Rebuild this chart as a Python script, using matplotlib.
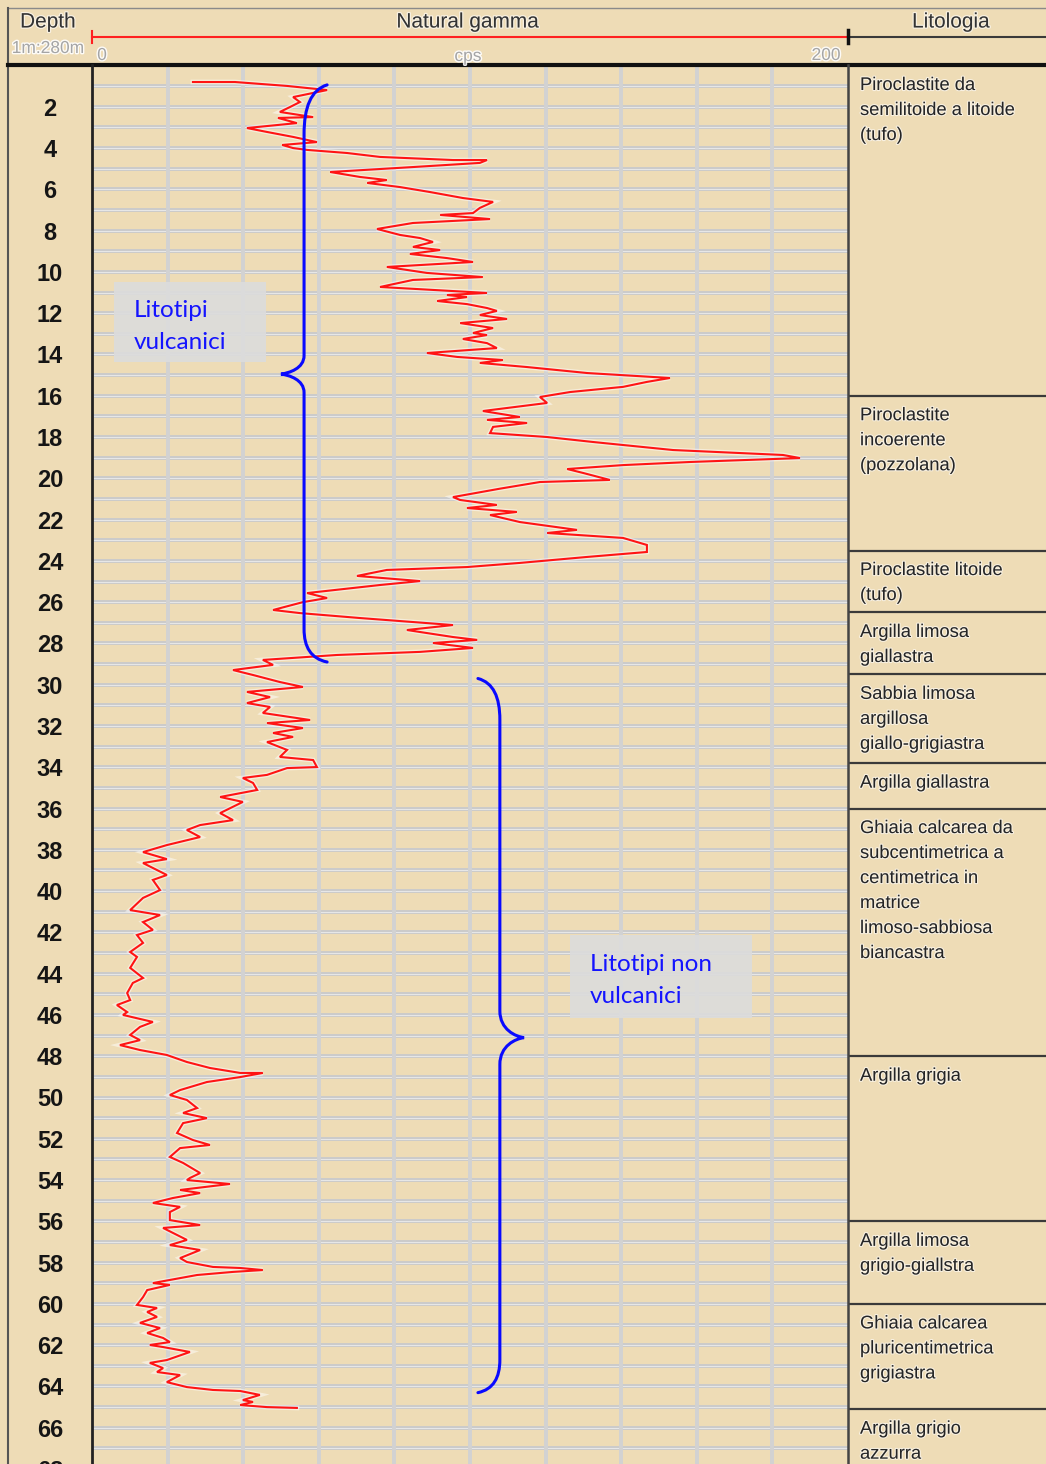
import matplotlib
matplotlib.use("Agg")
import matplotlib.pyplot as plt
from matplotlib.path import Path
from matplotlib.patches import PathPatch, Rectangle
import matplotlib.patheffects as pe

plt.rcParams['font.family'] = ['Liberation Sans', 'DejaVu Sans']

# ---------------- data ----------------
depth_m = [
    0.80, 0.80, 0.99, 1.19, 1.53, 1.77, 2.01, 2.25, 2.50, 2.54, 2.79, 3.03, 3.22, 3.46, 3.71, 3.85,
    4.00, 4.09, 4.24, 4.43, 4.58, 4.58, 4.72, 4.92, 5.16, 5.40, 5.55, 5.69, 5.89, 6.13, 6.42, 6.61,
    6.90, 7.15, 7.24, 7.44, 7.63, 7.92, 8.21, 8.36, 8.55, 8.79, 8.94, 9.13, 9.33, 9.52, 9.76, 10.05,
    10.25, 10.39, 10.73,
    10.83, 11.02, 11.12, 11.22, 11.41, 11.56, 11.75, 11.89, 12.09, 12.28, 12.48, 12.72, 12.96, 13.06,
    13.25, 13.45, 13.69, 13.93, 14.12, 14.27, 14.41, 14.61, 14.90, 15.09, 15.14, 15.33, 15.57, 15.82,
    16.06, 16.35, 16.74, 17.03, 17.17, 17.32, 17.51, 17.81, 18.00, 18.24, 18.63, 18.87, 19.02, 19.21,
    19.36, 19.55, 19.74, 20.08, 20.18, 20.50, 20.91,
    21.05, 21.29, 21.44, 21.63, 21.78, 22.12, 22.50, 22.65, 22.89, 23.23, 23.57, 23.81, 24.10, 24.30,
    24.44, 24.73, 24.98, 25.17, 25.56, 25.80, 26.00, 26.38, 26.53, 26.77, 27.11, 27.35, 27.69, 27.83,
    27.98, 28.22, 28.41, 28.56, 28.80, 29.04, 29.29, 29.53, 29.87, 30.11, 30.35, 30.60,
    30.89, 31.08, 31.37, 31.71, 31.86, 32.10, 32.34, 32.53, 32.78, 33.16, 33.50, 33.65, 33.99, 34.04,
    34.37, 34.52, 34.76, 35.10, 35.44, 35.68, 36.22, 36.56, 36.80, 37.04, 37.38, 37.77, 38.11, 38.45,
    38.64, 39.22, 39.46, 39.95, 40.33,
    40.92, 41.16, 41.50, 41.88, 42.13, 42.51, 42.95, 43.19, 43.72, 44.21, 44.45, 44.94, 45.28, 45.52,
    45.86, 46.00, 46.34, 46.58, 46.97, 47.22, 47.46, 47.70, 47.94, 48.28, 48.57, 48.81, 48.81, 49.01,
    49.25, 49.64, 49.88, 50.12, 50.51, 50.75, 51.00, 51.24, 51.72, 52.06, 52.30, 52.45, 52.88, 53.17,
    53.66, 53.90,
    54.00, 54.19, 54.48, 54.63, 54.87, 55.11, 55.30, 55.55, 55.94, 56.18, 56.32, 56.66, 56.90, 57.15,
    57.39, 57.78, 57.97, 58.21, 58.26, 58.36, 58.45, 58.60, 58.99, 59.08, 59.33, 59.67, 60.05, 60.20,
    60.39, 60.63, 60.92, 61.17, 61.41, 61.65, 61.85, 61.99, 62.09, 62.33, 62.72, 62.86, 63.11, 63.30,
    63.45, 63.79, 64.03, 64.17, 64.22, 64.41, 64.66, 64.75, 64.90, 65.00, 65.04,
]
gamma_cps = [
    26.7, 37.8, 51.6, 62.2, 53.2, 55.0, 52.4, 49.7, 58.5, 49.2, 54.2, 41.0, 46.3, 53.2, 59.5, 50.3,
    53.2, 56.9, 67.5, 76.2, 95.5, 104.5, 102.6, 84.9, 63.0, 70.9, 78.0, 72.8, 81.5, 89.4, 98.1, 106.1,
    102.6, 100.8, 92.1, 105.3, 84.9, 75.4, 81.5, 86.8, 90.2, 84.9, 92.1, 84.1, 93.9, 100.8, 78.0, 88.6,
    103.4, 84.9, 76.2,
    86.0, 104.5, 93.9, 99.2, 91.3, 99.2, 104.5, 107.1, 102.6, 109.8, 97.4, 106.1, 100.8, 104.5,
    98.1, 104.5, 107.1, 88.6, 96.6, 108.7, 102.6, 115.1, 131.0, 148.4, 152.9, 146.8, 140.5, 126.5,
    118.5, 120.4, 103.4, 113.2, 104.5, 115.1, 106.1, 105.3, 120.4, 132.5, 153.7, 182.8, 187.3, 158.2,
    140.5, 125.7, 129.9, 137.0, 118.5, 108.0, 95.5,
    97.4, 107.1, 99.2, 112.4, 105.3, 113.2, 128.3, 120.4, 140.5, 146.8, 146.8, 131.0, 113.2, 99.2,
    78.0, 70.1, 86.8, 76.2, 56.9, 62.2, 55.8, 47.9, 55.0, 70.9, 95.5, 83.3, 95.5, 101.9,
    90.2, 100.8, 86.8, 64.8, 45.2, 47.9, 37.3, 42.6, 49.7, 55.8, 41.0, 47.1,
    41.0, 47.1, 45.2, 57.7, 46.3, 55.8, 47.9, 53.2, 46.3, 51.6, 49.7, 58.5, 59.5, 51.6,
    46.3, 39.9, 42.6, 43.7, 33.9, 39.9, 33.9, 37.3, 28.6, 25.1, 28.6, 19.8, 13.5, 19.8,
    13.5, 19.8, 16.1, 18.0, 13.5,
    10.1, 18.0, 13.5, 16.1, 11.9, 13.5, 10.1, 11.9, 10.1, 13.5, 10.8, 9.3, 10.1, 6.6,
    9.3, 8.2, 16.1, 12.7, 10.1, 12.7, 7.4, 12.7, 19.8, 25.1, 31.2, 39.2, 45.2, 39.2,
    30.4, 23.3, 20.6, 25.1, 27.8, 24.1, 30.4, 24.1, 22.5, 26.7, 31.2, 23.3, 20.6, 24.1,
    28.6, 25.9,
    25.1, 36.5, 23.3, 28.6, 21.4, 16.1, 23.3, 20.6, 20.6, 28.6, 18.8, 22.5, 25.1, 20.6,
    28.6, 23.3, 25.1, 32.0, 39.2, 45.2, 37.3, 27.8, 16.1, 20.6, 14.6, 13.5, 11.9, 17.2,
    14.6, 17.2, 12.7, 18.0, 14.6, 18.8, 20.6, 15.3, 18.8, 25.9, 19.8, 15.3, 18.8, 17.2,
    23.3, 19.8, 25.1, 32.0, 39.2, 44.4, 39.9, 42.6, 39.2, 46.3, 54.2,
]

depth_tick_labels = list(range(2, 70, 2))
gamma_min, gamma_max = 0, 200

litho_tops = [0.0, 16.0, 23.5, 26.5, 29.5, 33.8, 36.0, 48.0, 56.0, 60.0, 65.1]
litho_labels = [
    "Piroclastite da\nsemilitoide a litoide\n(tufo)",
    "Piroclastite\nincoerente\n(pozzolana)",
    "Piroclastite litoide\n(tufo)",
    "Argilla limosa\ngiallastra",
    "Sabbia limosa\nargillosa\ngiallo-grigiastra",
    "Argilla giallastra",
    "Ghiaia calcarea da\nsubcentimetrica a\ncentimetrica in\nmatrice\nlimoso-sabbiosa\nbiancastra",
    "Argilla grigia",
    "Argilla limosa\ngrigio-giallstra",
    "Ghiaia calcarea\npluricentimetrica\ngrigiastra",
    "Argilla grigio\nazzurra",
]

group_labels = ["Litotipi\nvulcanici", "Litotipi non\nvulcanici"]

# ---------------- layout ----------------
W, H = 1046, 1464
PX_PER_M = 20.64
TOP = 65.5
x_depth, x_gamma, x_litho = 8, 92, 848
dmax = (H - TOP) / PX_PER_M

BG = '#eedcb6'
fig = plt.figure(figsize=(W / 100, H / 100), dpi=100, facecolor=BG)

body_h = (H - TOP) / H
axd = fig.add_axes([x_depth / W, 0, (x_gamma - x_depth) / W, body_h])
axg = fig.add_axes([x_gamma / W, 0, (x_litho - x_gamma) / W, body_h])
axl = fig.add_axes([x_litho / W, 0, (W - x_litho) / W, body_h])
for ax in (axd, axg, axl):
    ax.set_facecolor('none')
    ax.set_ylim(dmax, 0)
    ax.axis('off')
axg.set_xlim(gamma_min, gamma_max)
axd.set_xlim(0, 1)
axl.set_xlim(0, 1)

# grid in gamma track
for d in range(1, int(dmax) + 1):
    axg.axhline(d, color='#cbcbcb', lw=2.8, zorder=1)
    axg.axhline(d, color='#e8e8e8', lw=0.7, zorder=1)
for v in range(20, 200, 20):
    axg.axvline(v, color='#d2d2d2', lw=2.8, zorder=1)

# gamma curve
axg.plot(gamma_cps, depth_m, color='#ff1414', lw=1.5, zorder=5,
         solid_joinstyle='miter',
         path_effects=[pe.Stroke(linewidth=3.4, foreground='white', alpha=0.5), pe.Normal()])

# braces (annotation)
def brace(ax, x_stem, x_end, x_tip, d_top, d_mid, d_bot, r_top, r_bot, r_mid):
    verts = [
        (x_end, d_top),
        (x_stem + (x_end - x_stem) * 0.3, d_top + r_top * 0.1),
        (x_stem, d_top + r_top * 0.45),
        (x_stem, d_top + r_top),
        (x_stem, d_mid - r_mid),
        (x_stem, d_mid - r_mid * 0.3),
        (x_tip + (x_stem - x_tip) * 0.35, d_mid - 0.05),
        (x_tip, d_mid),
        (x_tip + (x_stem - x_tip) * 0.35, d_mid + 0.05),
        (x_stem, d_mid + r_mid * 0.3),
        (x_stem, d_mid + r_mid),
        (x_stem, d_bot - r_bot),
        (x_stem, d_bot - r_bot * 0.45),
        (x_stem + (x_end - x_stem) * 0.3, d_bot - r_bot * 0.1),
        (x_end, d_bot),
    ]
    codes = [Path.MOVETO, Path.CURVE4, Path.CURVE4, Path.CURVE4, Path.LINETO,
             Path.CURVE4, Path.CURVE4, Path.CURVE4, Path.CURVE4, Path.CURVE4, Path.CURVE4,
             Path.LINETO, Path.CURVE4, Path.CURVE4, Path.CURVE4]
    ax.add_patch(PathPatch(Path(verts, codes), fill=False, edgecolor='#0a0aff', lw=2.2,
                           zorder=6, capstyle='round'))

brace(axg, 56.1, 62.2, 50.0, 0.94, 14.95, 28.9, 2.4, 1.6, 0.9)
brace(axg, 107.9, 102.1, 114.3, 29.7, 47.1, 64.3, 2.0, 1.6, 1.3)

# group label boxes
box_specs = [((5.8, 10.49), 40.2, 3.88, 11.1, 11.75), ((126.5, 42.13), 48.1, 4.02, 131.7, 43.48)]
for (xy, w, h, tx, ty), lab in zip(box_specs, group_labels):
    axg.add_patch(Rectangle(xy, w, h, facecolor='#dcdcdc', edgecolor='none', alpha=0.92, zorder=7))
    for i, line in enumerate(lab.split('\n')):
        axg.text(tx, ty + i * 32 / PX_PER_M, line, color='#1414ff', fontsize=17.5,
                 family=['Lato', 'DejaVu Sans'], ha='left', va='center_baseline', zorder=8)

# depth labels
for d in depth_tick_labels:
    axd.text(0.5, d, str(d), ha='center', va='center_baseline', fontsize=17,
             fontweight='bold', color='#151515', clip_on=False)

# lithology column
halo = [pe.withStroke(linewidth=1.6, foreground='white', alpha=0.6)]
for top, lab in zip(litho_tops, litho_labels):
    if top > 0:
        axl.axhline(top, color='#3a3a3a', lw=1.6)
    first = top + 18.0 / PX_PER_M
    for i, line in enumerate(lab.split('\n')):
        axl.text(12 / (W - x_litho), first + i * 25 / PX_PER_M, line, ha='left',
                 va='center_baseline', fontsize=13.2, color='#252525', path_effects=halo)

# header / borders overlay in pixel coordinates
hax = fig.add_axes([0, 0, 1, 1])
hax.set_xlim(0, W)
hax.set_ylim(H, 0)
hax.axis('off')
hax.set_facecolor('none')
hax.plot([x_depth, W], [8, 8], color='#8a8a8a', lw=1)
hax.plot([x_depth, x_depth], [8, H], color='#555555', lw=1.5)
hax.plot([x_depth, W], [64.5, 64.5], color='#111111', lw=3)
hax.plot([x_gamma, x_gamma], [64.5, H], color='#222222', lw=2)
hax.plot([x_litho, x_litho], [64.5, H], color='#444444', lw=1.8)
hax.plot([x_gamma, x_litho], [36.5, 36.5], color='#ff2020', lw=1.5)
hax.plot([x_gamma, x_gamma], [31, 43], color='#ff2020', lw=1.5)
hax.plot([x_litho, W], [36.5, 36.5], color='#3a3a3a', lw=1.5)
hax.plot([x_litho, x_litho], [30, 43], color='#111111', lw=2.5)

hdr_halo = [pe.withStroke(linewidth=1.8, foreground='white', alpha=0.6)]
gray_halo = [pe.withStroke(linewidth=2.0, foreground='white', alpha=0.9)]
hax.text(48, 20, "Depth", ha='center', va='center_baseline', fontsize=15, color='#333333',
         path_effects=hdr_halo)
hax.text(48, 47, "1m:280m", ha='center', va='center_baseline', fontsize=12.5, color='#a5a5a5',
         path_effects=gray_halo)
hax.text(468, 20, "Natural gamma", ha='center', va='center_baseline', fontsize=15,
         color='#333333', path_effects=hdr_halo)
hax.text(951, 20, "Litologia", ha='center', va='center_baseline', fontsize=15, color='#333333',
         path_effects=hdr_halo)
hax.text(102, 54, str(gamma_min), ha='center', va='center_baseline', fontsize=12.5,
         color='#a5a5a5', path_effects=gray_halo)
hax.text(468, 55, "cps", ha='center', va='center_baseline', fontsize=12.5, color='#a5a5a5',
         path_effects=gray_halo)
hax.text(826, 54, str(gamma_max), ha='center', va='center_baseline', fontsize=12.5,
         color='#a5a5a5', path_effects=gray_halo)

fig.savefig("out.png", dpi=100, facecolor=BG)
